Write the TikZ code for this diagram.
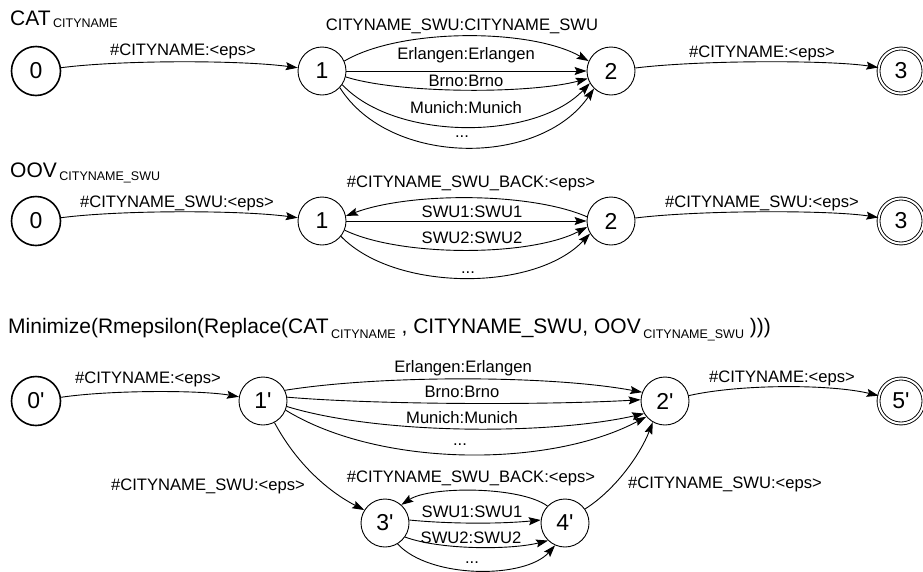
\documentclass[tikz,border=0pt]{standalone}
\usepackage{fontspec}
\setmainfont{Liberation Sans}[Ligatures=TeXOff]
\usetikzlibrary{arrows.meta}
\newcommand\subtxt[2]{\kern2.5pt\raisebox{-#1}{\fontsize{12.5}{12.5}\selectfont #2}}
\tikzset{
  st/.style={circle, draw, line width=0.9pt, minimum size=48pt, inner sep=0pt, font=\fontsize{23}{23}\selectfont},
  startst/.style={st, line width=1.6pt, minimum size=49pt},
  finalst/.style={st, double, double distance=2pt, minimum size=45pt},
  lbl/.style={anchor=base, font=\fontsize{16.6}{18}\selectfont, inner sep=0pt},
  ttl/.style={anchor=base west, font=\fontsize{21}{24}\selectfont, inner sep=0pt},
  arc/.style={line width=0.9pt, -{Stealth[length=12pt,width=8pt,inset=2pt]}},
}
\begin{document}
\begin{tikzpicture}[x=1pt,y=-1pt]
\useasboundingbox (0,0) rectangle (923,571);
% ---------- row 1 ----------
\node[ttl] (t1) at (10,25) {CAT\subtxt{2pt}{CITYNAME}};
\node[startst] (a0) at (36,71) {0};
\node[st] (a1) at (322,71) {1};
\node[st] (a2) at (611,71) {2};
\node[finalst] (a3) at (901,71) {3};
\draw[arc] (a0) .. controls (120,60) and (240,60) .. (a1);
\draw[arc] (a2) .. controls (700,60) and (830,60) .. (a3);
\draw[arc] (a1.24) .. controls (400,28) and (530,28) .. (a2.156);
\draw[arc] (a1) -- (a2);
\draw[arc] (a1.-14) .. controls (400,94) and (530,94) .. (a2.-162);
\draw[arc] (a1.-34) .. controls (395,141) and (535,141) .. (a2.-150);
\draw[arc] (a1.-43) .. controls (390,167) and (540,167) .. (a2.-134);
\node[lbl] (l01) at (183,55) {\#CITYNAME:<eps>};
\node[lbl] (l02) at (462,30) {CITYNAME\_SWU:CITYNAME\_SWU};
\node[lbl] (l03) at (466,59) {Erlangen:Erlangen};
\node[lbl] (l04) at (466,86) {Brno:Brno};
\node[lbl] (l05) at (466,113) {Munich:Munich};
\node[lbl] (l06) at (462,137) {...};
\node[lbl] (l07) at (762,57) {\#CITYNAME:<eps>};
% ---------- row 2 ----------
\node[ttl] (t2) at (10,177) {OOV\subtxt{3pt}{CITYNAME\_SWU}};
\node[startst] (b0) at (36,221) {0};
\node[st] (b1) at (322,221) {1};
\node[st] (b2) at (611,221) {2};
\node[finalst] (b3) at (901,221) {3};
\draw[arc] (b0) .. controls (120,210) and (240,210) .. (b1);
\draw[arc] (b2) .. controls (700,210) and (830,210) .. (b3);
\draw[arc] (b2.170) .. controls (530,192) and (410,192) .. (b1.12);
\draw[arc] (b1) -- (b2);
\draw[arc] (b1.-22) .. controls (400,257) and (530,257) .. (b2.-166);
\draw[arc] (b1.-39) .. controls (395,292) and (535,292) .. (b2.-149);
\node[lbl] (l11) at (177,207) {\#CITYNAME\_SWU:<eps>};
\node[lbl] (l12) at (471,187) {\#CITYNAME\_SWU\_BACK:<eps>};
\node[lbl] (l13) at (472,217) {SWU1:SWU1};
\node[lbl] (l14) at (472,243) {SWU2:SWU2};
\node[lbl] (l15) at (468,273) {...};
\node[lbl] (l16) at (762,207) {\#CITYNAME\_SWU:<eps>};
% ---------- row 3 ----------
\node[ttl] (t3) at (8,333) {Minimize(Rmepsilon(Replace(CAT\subtxt{5pt}{CITYNAME} , CITYNAME\_SWU, OOV\subtxt{5pt}{CITYNAME\_SWU} )))};
\node[startst] (c0) at (36,401) {0'};
\node[st] (c1) at (263,401) {1'};
\node[st] (c2) at (665,401) {2'};
\node[finalst] (c5) at (901,401) {5'};
\node[st] (c3) at (385,523) {3'};
\node[st] (c4) at (565,523) {4'};
\draw[arc] (c0) .. controls (110,390) and (200,390) .. (c1);
\draw[arc] (c2) .. controls (740,384) and (830,384) .. (c5);
\draw[arc] (c1.26) .. controls (380,375) and (550,375) .. (c2.159);
\draw[arc] (c1.9) .. controls (380,405) and (550,405) .. (c2.177);
\draw[arc] (c1.-13) .. controls (380,435) and (550,435) .. (c2.-149);
\draw[arc] (c1.-22) .. controls (380,468) and (550,468) .. (c2.-140);
\draw[arc] (c1.-62) .. controls (300,470) and (335,495) .. (c3.148);
\draw[arc] (c4.35) .. controls (615,490) and (640,455) .. (c2.-120);
\draw[arc] (c4.136) .. controls (520,486) and (430,486) .. (c3.48);
\draw[arc] (c3.7) .. controls (450,524) and (500,524) .. (c4.173);
\draw[arc] (c3.-35) .. controls (440,550) and (510,550) .. (c4.-134);
\draw[arc] (c3.-59) .. controls (430,579) and (525,579) .. (c4.-114);
\node[lbl] (l21) at (148,383) {\#CITYNAME:<eps>};
\node[lbl] (l22) at (463,372) {Erlangen:Erlangen};
\node[lbl] (l23) at (462,397) {Brno:Brno};
\node[lbl] (l24) at (462,423) {Munich:Munich};
\node[lbl] (l25) at (460,445) {...};
\node[lbl] (l26) at (782,382) {\#CITYNAME:<eps>};
\node[lbl] (l27) at (208,490) {\#CITYNAME\_SWU:<eps>};
\node[lbl] (l28) at (471,482) {\#CITYNAME\_SWU\_BACK:<eps>};
\node[lbl] (l29) at (725,488) {\#CITYNAME\_SWU:<eps>};
\node[lbl] (l30) at (472,517) {SWU1:SWU1};
\node[lbl] (l31) at (471,543) {SWU2:SWU2};
\node[lbl] (l32) at (472,563) {...};
\end{tikzpicture}
\end{document}
